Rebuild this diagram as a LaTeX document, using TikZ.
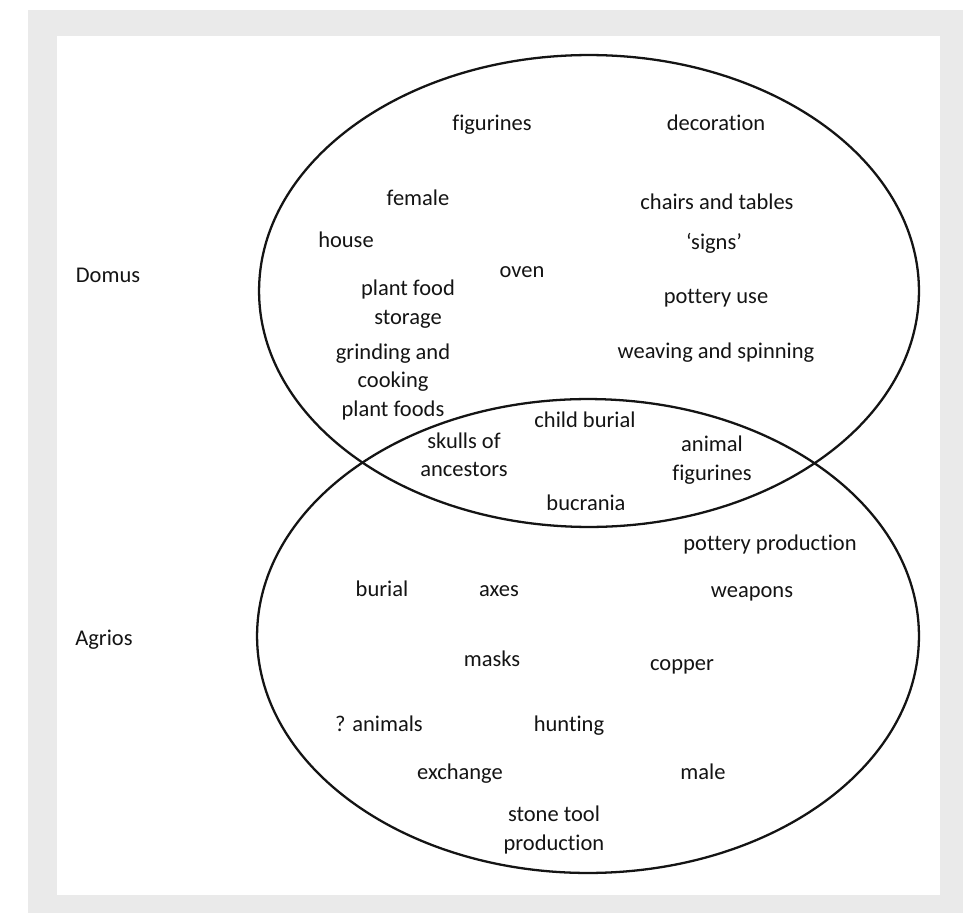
\documentclass[tikz,border=0pt]{standalone}
\usepackage{fontspec}
\setmainfont{Carlito}[Ligatures=NoCommon]
\usetikzlibrary{positioning}
\definecolor{cInk}{HTML}{141414}
\definecolor{cFrame}{HTML}{EAEAEA}

\begin{document}
\begin{tikzpicture}[
  x=0.02cm, y=-0.02cm,
  stack/.style={font=\fontsize{12.8}{16.2}\selectfont, text=cInk,
    align=center, inner sep=1pt},
  lbl/.style={stack, text height=9pt, text depth=3pt},
  ring/.style={draw=cInk, line width=1.3pt},
]
  \useasboundingbox (0,0) rectangle (972,915);

  % frame
  \fill[cFrame] (28,10) rectangle (963,913);
  \fill[white] (57,36) rectangle (940,895);

  % the two sets
  \draw[ring] (589,291) ellipse [x radius=6.6cm, y radius=4.72cm];
  \draw[ring] (588,636) ellipse [x radius=6.62cm, y radius=4.74cm];

  \node[lbl] (domus) at (108,277) {Domus};
  \node[lbl] (agrios) at (104,640) {Agrios};

  % domus only
  \node[lbl] (figurines) at (492,125) {figurines};
  \node[lbl] (decoration) at (716,125) {decoration};
  \node[lbl] (female) at (418,200) {female};
  \node[lbl] (chairs) at (717,204) {chairs and tables};
  \node[lbl] (house) at (346,242) {house};
  \node[lbl] (signs) at (714,244) {‘signs’};
  \node[lbl] (oven) at (522,272) {oven};
  \node[stack] (storage) at (408,304) {plant food\\storage};
  \node[lbl] (potuse) at (716,298) {pottery use};
  \node[stack] (grinding) at (393,382) {grinding and\\cooking\\plant foods};
  \node[lbl] (weaving) at (716,353) {weaving and spinning};

  % overlap
  \node[lbl] (child) at (585,422) {child burial};
  \node[stack] (skulls) at (464,455) {skulls of\\ancestors};
  \node[stack] (animfig) at (712,460) {animal\\figurines};
  \node[lbl] (bucrania) at (586,505) {bucrania};

  % agrios only
  \node[lbl] (potprod) at (770,545) {pottery production};
  \node[lbl] (burial) at (382,591) {burial};
  \node[lbl] (axes) at (499,591) {axes};
  \node[lbl] (weapons) at (752,592) {weapons};
  \node[lbl] (masks) at (492,661) {masks};
  \node[lbl] (copper) at (682,665) {copper};
  \node[lbl] (animals) at (379,726) {? animals};
  \node[lbl] (hunting) at (569,726) {hunting};
  \node[lbl] (exchange) at (460,774) {exchange};
  \node[lbl] (male) at (703,774) {male};
  \node[stack] (stonetool) at (554,830) {stone tool\\production};

\end{tikzpicture}
\end{document}
